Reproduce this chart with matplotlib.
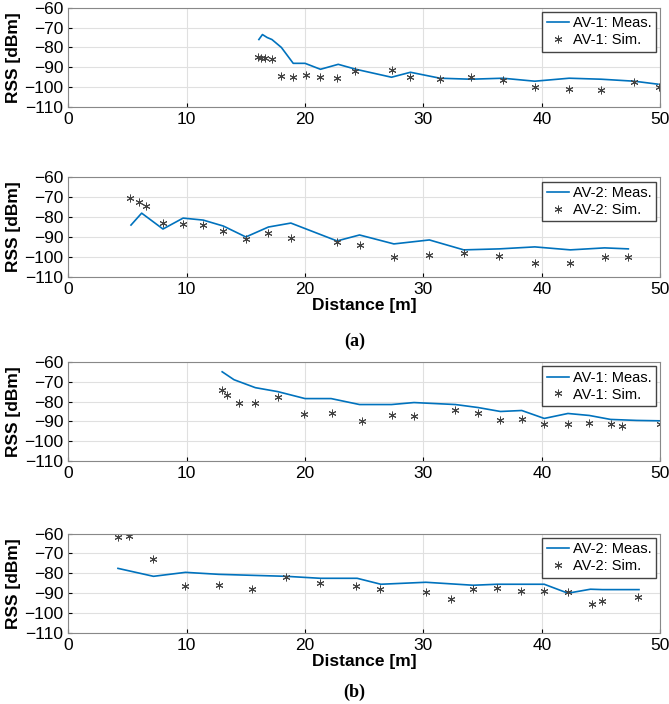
import matplotlib
matplotlib.use('Agg')
import matplotlib.pyplot as plt

plt.rcParams['font.family'] = ['Liberation Sans', 'DejaVu Sans']

# (a) AV-1
a1_meas_x = [16.1, 16.4, 16.8, 17.2, 18, 19, 20, 21.3, 22.8, 24.3, 27.3, 28.9, 31.4, 34, 36.7, 39.4, 42.3, 45, 47.8, 49.8]
a1_meas_y = [-76, -73.5, -75, -76, -80, -88, -88, -91, -88.5, -91, -95, -92.5, -95.5, -96, -95.5, -97, -95.5, -96, -97, -98.5]
a1_sim_x = [16, 16.3, 16.6, 17.2, 18, 19, 20.1, 21.3, 22.7, 24.2, 27.3, 28.9, 31.4, 34, 36.7, 39.4, 42.3, 45, 47.8, 49.9]
a1_sim_y = [-85, -85.5, -85.5, -86, -94.5, -95, -94, -94.8, -95.2, -92, -91.5, -95, -96, -95, -96.5, -99.8, -101, -101.5, -97.5, -100]
# (a) AV-2
a2_meas_x = [5.3, 6.2, 8, 9.7, 11.4, 13.1, 15, 16.9, 18.8, 22.7, 24.6, 27.5, 30.5, 33.4, 36.4, 39.4, 42.4, 45.3, 47.3]
a2_meas_y = [-84, -78, -86, -80.5, -81.5, -84.5, -90, -85, -83, -92, -89, -93.5, -91.5, -96.5, -96, -95, -96.5, -95.5, -96]
a2_sim_x = [5.2, 6, 6.6, 8, 9.7, 11.4, 13.1, 15, 16.9, 18.8, 22.7, 24.6, 27.5, 30.5, 33.4, 36.4, 39.4, 42.4, 45.3, 47.3]
a2_sim_y = [-70.5, -72.5, -74.5, -83, -83.5, -84, -87, -91, -88, -90.5, -92.5, -94, -100, -99, -98, -99.5, -103, -103, -100, -100]
# (b) AV-1
b1_meas_x = [13, 14, 15.8, 17.7, 20, 22.2, 24.6, 27.3, 29.2, 32.7, 34.6, 36.5, 38.3, 40.2, 42.2, 44, 45.8, 48, 50]
b1_meas_y = [-65, -69, -73, -75, -78.5, -78.5, -81.5, -81.5, -80.5, -81.5, -83, -85, -84.5, -88.5, -86, -87, -89, -89.5, -89.7]
b1_sim_x = [13, 13.4, 14.4, 15.8, 17.7, 19.9, 22.3, 24.8, 27.3, 29.2, 32.7, 34.6, 36.5, 38.3, 40.2, 42.2, 44, 45.8, 46.8, 50]
b1_sim_y = [-74, -76.5, -80.5, -80.5, -77.5, -86.5, -86, -89.7, -87, -87.5, -84.5, -86, -89.5, -88.8, -91.5, -91.5, -91, -91.5, -92.5, -91.5]
# (b) AV-2
b2_meas_x = [4.2, 7.2, 9.9, 12.7, 15.5, 18.4, 21.3, 24.4, 26.4, 30.2, 34.2, 36.2, 38.2, 40.2, 42.2, 44.1, 45.1, 48.2]
b2_meas_y = [-77.5, -81.5, -79.5, -80.5, -81, -81.5, -82.5, -82.5, -85.5, -84.5, -86, -85.5, -85.5, -85.5, -90, -88, -88.2, -88.2]
b2_sim_x = [4.2, 5.1, 7.2, 9.9, 12.7, 15.5, 18.4, 21.3, 24.3, 26.3, 30.2, 32.3, 34.2, 36.2, 38.2, 40.2, 42.2, 44.2, 45.1, 48.1]
b2_sim_y = [-61.5, -61, -73, -86.5, -86, -88, -82, -85, -86.5, -88, -89.5, -93, -88, -87.5, -89, -89, -89.5, -95.5, -94, -92]

panels = [
    (a1_meas_x, a1_meas_y, a1_sim_x, a1_sim_y, 'AV-1', 0.848, False),
    (a2_meas_x, a2_meas_y, a2_sim_x, a2_sim_y, 'AV-2', 0.607, True),
    (b1_meas_x, b1_meas_y, b1_sim_x, b1_sim_y, 'AV-1', 0.345, False),
    (b2_meas_x, b2_meas_y, b2_sim_x, b2_sim_y, 'AV-2', 0.101, True),
]

fig = plt.figure(figsize=(6.69, 7.04), dpi=100)
for mx, my, sx, sy, name, bottom, xlab in panels:
    ax = fig.add_axes([0.102, bottom, 0.885, 0.141])
    ax.plot(mx, my, color='#0072BD', linewidth=1.2, label=name + ': Meas.')
    ax.plot(sx, sy, linestyle='none', marker=(6, 2, 0), markersize=5.5,
            color='#444444', markeredgewidth=0.7, label=name + ': Sim.')
    ax.set_xlim(0, 50)
    ax.set_ylim(-110, -60)
    ax.set_yticks(range(-110, -59, 10))
    ax.set_xticks(range(0, 51, 10))
    ax.grid(True, color='#e0e0e0', linewidth=0.8)
    ax.tick_params(labelsize=12.5, direction='in', length=3)
    for s in ax.spines.values():
        s.set_color('#888888')
    ax.set_ylabel('RSS [dBm]', fontsize=12.5, fontweight='bold', labelpad=2)
    if xlab:
        ax.set_xlabel('Distance [m]', fontsize=12.5, fontweight='bold', labelpad=1)
    ax.legend(loc='upper right', fontsize=10.5, fancybox=False, framealpha=1,
              edgecolor='#444444', handlelength=1.5, handletextpad=0.3,
              borderaxespad=0.3, borderpad=0.3, labelspacing=0.2)

fig.text(0.53, 0.508, '(a)', ha='center', fontsize=13, fontweight='bold', family='Liberation Serif')
fig.text(0.53, 0.010, '(b)', ha='center', fontsize=13, fontweight='bold', family='Liberation Serif')

plt.savefig('out.png')
